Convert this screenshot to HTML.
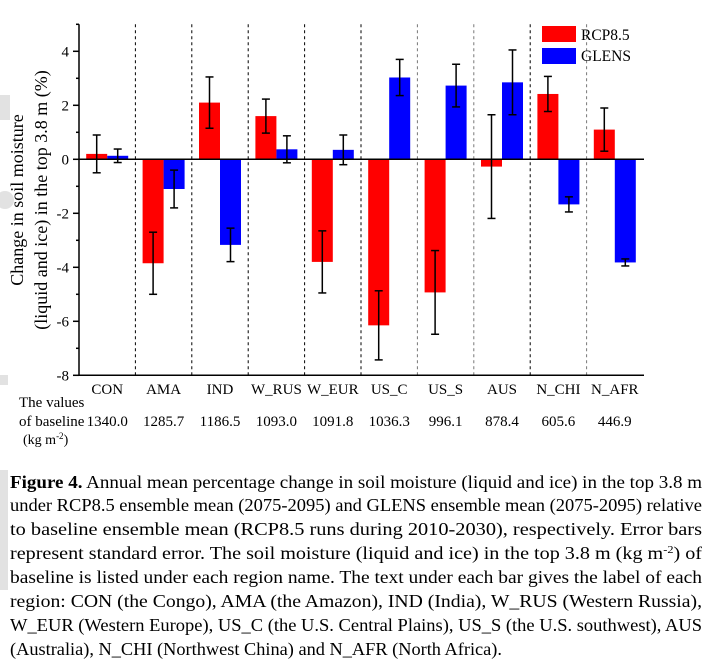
<!DOCTYPE html>
<html><head><meta charset="utf-8">
<style>
html,body{margin:0;padding:0;background:#fff;}
svg{display:block;font-family:"Liberation Serif",serif;}
</style></head>
<body>
<svg id="chart" width="718" height="665" viewBox="0 0 718 665" xmlns="http://www.w3.org/2000/svg">
<g id="watermark" fill="#e2e2e2">
  <rect x="0" y="95" width="10" height="25"/>
  <circle cx="5" cy="200" r="9"/>
  <rect x="0" y="375" width="8" height="10"/>
  <rect x="0" y="470" width="8" height="120"/>
</g>
<g id="plot"></g>
<g id="caption" font-size="18" fill="#000">
  <text x="10" y="488" textLength="692" lengthAdjust="spacingAndGlyphs"><tspan font-weight="bold">Figure 4.</tspan> Annual mean percentage change in soil moisture (liquid and ice) in the top 3.8 m</text>
  <text x="10" y="511" textLength="692" lengthAdjust="spacingAndGlyphs">under RCP8.5 ensemble mean (2075-2095) and GLENS ensemble mean (2075-2095) relative</text>
  <text x="10" y="535" textLength="692" lengthAdjust="spacingAndGlyphs">to baseline ensemble mean (RCP8.5 runs during 2010-2030), respectively. Error bars</text>
  <text x="10" y="559" textLength="692" lengthAdjust="spacingAndGlyphs">represent standard error. The soil moisture (liquid and ice) in the top 3.8 m (kg m<tspan font-size="11" dy="-6">-2</tspan><tspan dy="6">) of</tspan></text>
  <text x="10" y="583" textLength="692" lengthAdjust="spacingAndGlyphs">baseline is listed under each region name. The text under each bar gives the label of each</text>
  <text x="10" y="607" textLength="692" lengthAdjust="spacingAndGlyphs">region: CON (the Congo), AMA (the Amazon), IND (India), W_RUS (Western Russia),</text>
  <text x="10" y="631" textLength="692" lengthAdjust="spacingAndGlyphs">W_EUR (Western Europe), US_C (the U.S. Central Plains), US_S (the U.S. southwest), AUS</text>
  <text x="10" y="655" textLength="492" lengthAdjust="spacingAndGlyphs">(Australia), N_CHI (Northwest China) and N_AFR (North Africa).</text>
</g>
</svg>
<script>
const categories = ["CON","AMA","IND","W_RUS","W_EUR","US_C","US_S","AUS","N_CHI","N_AFR"];
const baseline = ["1340.0","1285.7","1186.5","1093.0","1091.8","1036.3","996.1","878.4","605.6","446.9"];
const rcpValues = [0.2,-3.85,2.1,1.6,-3.8,-6.15,-4.93,-0.27,2.42,1.1];
const rcpErrors = [0.7,1.15,0.95,0.63,1.15,1.28,1.55,1.92,0.65,0.8];
const glensValues = [0.13,-1.1,-3.17,0.37,0.35,3.03,2.73,2.85,-1.67,-3.82];
const glensErrors = [0.25,0.7,0.62,0.5,0.55,0.67,0.79,1.2,0.28,0.13];
const yTicks = [-8,-6,-4,-2,0,2,4];
const yMinor = [-7,-5,-3,-1,1,3,5];

const NS = "http://www.w3.org/2000/svg";
const g = document.getElementById("plot");
const X0 = 79, X1 = 643, YZERO = 159.3, PPU = 27.0;
const gw = (X1 - X0) / categories.length;
const y = v => YZERO - v * PPU;
const gx = i => X0 + i * gw;
function mk(tag, attrs, parent) {
  const e = document.createElementNS(NS, tag);
  for (const k in attrs) e.setAttribute(k, attrs[k]);
  (parent || g).appendChild(e);
  return e;
}
for (let i = 1; i < categories.length; i++) {
  const dark = [1,2,3,4,5,8].includes(i);
  const d = mk("line", {x1: gx(i), x2: gx(i), y1: y(5), y2: y(-8), stroke: dark ? "#000" : "#777", "stroke-width": 1, "stroke-dasharray": "3,3"});
  
  
}
function drawBar(i, v, err, color, off, series) {
  const bw = 21;
  const x = gx(i) + gw / 2 + off;
  const r = mk("rect", {x: x, y: Math.min(y(v), y(0)), width: bw, height: Math.abs(y(v) - y(0)), fill: color});
  
  
  const cx = x + bw / 2;
  const eg = mk("g", {stroke: "#000", "stroke-width": 1.5});
  
  
  mk("line", {x1: cx, x2: cx, y1: y(v - err), y2: y(v + err)}, eg);
  mk("line", {x1: cx - 4, x2: cx + 4, y1: y(v - err), y2: y(v - err)}, eg);
  mk("line", {x1: cx - 4, x2: cx + 4, y1: y(v + err), y2: y(v + err)}, eg);
}
categories.forEach((c, i) => {
  drawBar(i, rcpValues[i], rcpErrors[i], "#ff0000", -21, "rcp85");
  drawBar(i, glensValues[i], glensErrors[i], "#0000ff", 0, "glens");
});
const ax = mk("g", {stroke: "#000", "stroke-width": 1.5});


mk("line", {x1: X0, x2: X0, y1: y(5), y2: y(-8)}, ax);
mk("line", {x1: X0, x2: X1 + 1, y1: y(-8), y2: y(-8)}, ax);
mk("line", {x1: X0, x2: X1 + 1, y1: y(0), y2: y(0)}, ax);
yTicks.forEach(t => {
  mk("line", {x1: X0 - 6, x2: X0, y1: y(t), y2: y(t)}, ax);
  const tx = mk("text", {x: X0 - 10, y: y(t) + 5, "text-anchor": "end", "font-size": 15, fill: "#000", stroke: "none"});
  tx.textContent = t;
  
  
});
yMinor.forEach(t => mk("line", {x1: X0 - 3, x2: X0, y1: y(t), y2: y(t)}, ax));
categories.forEach((c, i) => {
  const t = mk("text", {x: gx(i) + gw / 2, y: 394, "text-anchor": "middle", "font-size": 15, fill: "#000"});
  t.textContent = c;
  
  
  const b = mk("text", {x: gx(i) + gw / 2, y: 426, "text-anchor": "middle", "font-size": 15, fill: "#000"});
  b.textContent = baseline[i];
  
  
});
</script>
<svg style="position:absolute;left:0;top:0" width="718" height="665">
  <g font-family="Liberation Serif, serif" fill="#000">
    <text font-size="15" x="19" y="407">The values</text>
    <text font-size="15" x="19" y="426">of baseline</text>
    <text font-size="14" x="23" y="444">(kg m<tspan font-size="9" dy="-5">-2</tspan><tspan dy="5">)</tspan></text>
    <text font-size="18" transform="translate(23,200) rotate(-90)" text-anchor="middle">Change in soil moisture</text>
    <text font-size="18" transform="translate(47,200) rotate(-90)" text-anchor="middle">(liquid and ice) in the top 3.8 m (%)</text>
    <rect x="542" y="26" width="34" height="16" fill="#ff0000"/>
    <text font-size="15.5" x="581" y="40">RCP8.5</text>
    <rect x="542" y="48" width="34" height="16" fill="#0000ff"/>
    <text font-size="15.5" x="581" y="61">GLENS</text>
  </g>
</svg>
</body></html>
